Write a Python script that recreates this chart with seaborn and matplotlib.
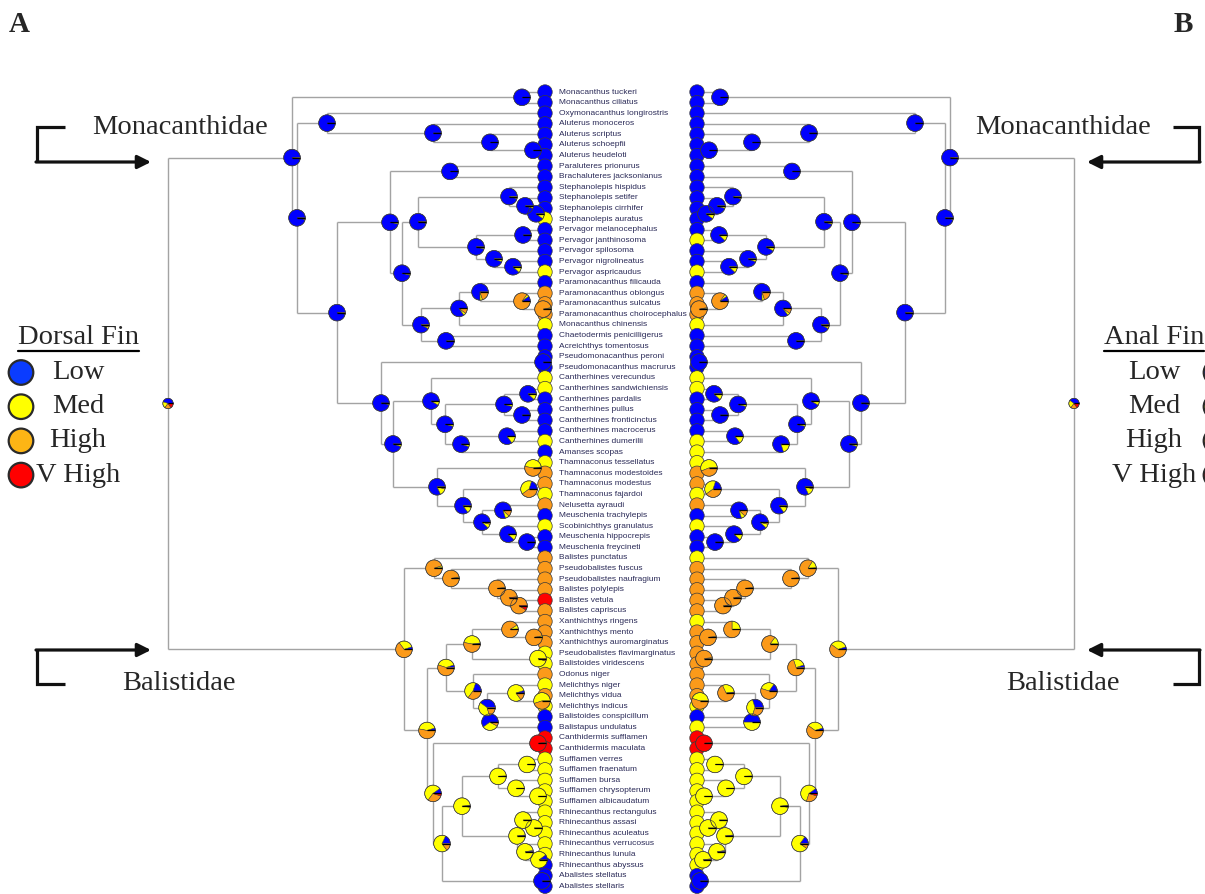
import numpy as np
import pandas as pd
import matplotlib
matplotlib.use("Agg")
import matplotlib.pyplot as plt
from matplotlib.patches import Wedge, Circle
from matplotlib.collections import LineCollection
from matplotlib.font_manager import FontProperties
import seaborn as sns

# ---------------------------------------------------------------- data
SPECIES = [
    "Monacanthus tuckeri", "Monacanthus ciliatus", "Oxymonacanthus longirostris",
    "Aluterus monoceros", "Aluterus scriptus", "Aluterus schoepfii", "Aluterus heudeloti",
    "Paraluteres prionurus", "Brachaluteres jacksonianus", "Stephanolepis hispidus",
    "Stephanolepis setifer", "Stephanolepis cirrhifer", "Stephanolepis auratus",
    "Pervagor melanocephalus", "Pervagor janthinosoma", "Pervagor spilosoma",
    "Pervagor nigrolineatus", "Pervagor aspricaudus", "Paramonacanthus filicauda",
    "Paramonacanthus oblongus", "Paramonacanthus sulcatus", "Paramonacanthus choirocephalus",
    "Monacanthus chinensis", "Chaetodermis penicilligerus", "Acreichthys tomentosus",
    "Pseudomonacanthus peroni", "Pseudomonacanthus macrurus", "Cantherhines verecundus",
    "Cantherhines sandwichiensis", "Cantherhines pardalis", "Cantherhines pullus",
    "Cantherhines fronticinctus", "Cantherhines macrocerus", "Cantherhines dumerilii",
    "Amanses scopas", "Thamnaconus tessellatus", "Thamnaconus modestoides",
    "Thamnaconus modestus", "Thamnaconus fajardoi", "Nelusetta ayraudi",
    "Meuschenia trachylepis", "Scobinichthys granulatus", "Meuschenia hippocrepis",
    "Meuschenia freycineti", "Balistes punctatus", "Pseudobalistes fuscus",
    "Pseudobalistes naufragium", "Balistes polylepis", "Balistes vetula",
    "Balistes capriscus", "Xanthichthys ringens", "Xanthichthys mento",
    "Xanthichthys auromarginatus", "Pseudobalistes flavimarginatus", "Balistoides viridescens",
    "Odonus niger", "Melichthys niger", "Melichthys vidua", "Melichthys indicus",
    "Balistoides conspicillum", "Balistapus undulatus", "Canthidermis sufflamen",
    "Canthidermis maculata", "Sufflamen verres", "Sufflamen fraenatum", "Sufflamen bursa",
    "Sufflamen chrysopterum", "Sufflamen albicaudatum", "Rhinecanthus rectangulus",
    "Rhinecanthus assasi", "Rhinecanthus aculeatus", "Rhinecanthus verrucosus",
    "Rhinecanthus lunula", "Rhinecanthus abyssus", "Abalistes stellatus", "Abalistes stellaris",
]

# fin-height state of every species (L = Low, M = Med, H = High, V = V High)
DORSAL_STATES = list(
    "LLLLLLLLLLLL" "M" "LLLL" "M" "L" "HHH" "M" "LLLL" "MM" "LLLL" "M" "L" "M" "HH" "M"
    "H" "L" "M" "LL" "HHHH" "V" "HHHH" "MM" "H" "M" "H" "M" "LL" "VV" "MMMMMMMMMM" "LLL"
)
ANAL_STATES = list(
    "LLLLLLLLLLLLLL" "M" "LL" "M" "L" "HHH" "M" "LLLL" "MM" "LLLL" "M" "M" "M" "HH" "M"
    "H" "L" "M" "LL" "M" "HHHHH" "M" "HHHHHHH" "M" "L" "M" "VV" "MMMMMMMMMMM" "LL"
)

STATE_NAMES = ["Low", "Med", "High", "V High"]
STATE_CODES = ["L", "M", "H", "V"]

# topology (tips numbered in plotting order, internal nodes named)
TREE = (
    "(((1,2)m1,((3,(4,(5,(6,7)c4)c3)c2)c1,(((8,9)h1,(((10,(11,(12,13)n3)n2)n1,"
    "((14,15)o1,(16,(17,18)o3)o2)o0)l0,(((19,(20,(21,22)w3)w2)w1,23)u0,(24,25)v0)k1)k0)h0,"
    "((26,27)i1,((28,(((29,30)d1,(31,32)d2)d0,((33,34)e1,35)e0)cc)aa,((36,37)j1,((38,39)j3,"
    "((40,41)j5,(42,(43,44)j7)j6)j4)j2)bb)z2)i0)d)b)a,"
    "((45,(46,(47,(48,(49,50)q4)q3)q2)q1)q0,((((51,(52,53)y2)y1,(54,55)y3)y0,"
    "(56,((57,(58,59)x3)x2,(60,61)x4)x1)x0)ww,((62,63)g1,((((64,65)s2,(66,(67,68)s4)s3)s1,"
    "((69,(70,71)r3)r2,(72,(73,74)r5)r4)r1)s0,(75,76)t1)t0)g0)rr)p)root;"
)

# node heights above the tips
NODE_HEIGHT = {
    "root": 377, "a": 253, "m1": 23, "b": 248, "c1": 218, "c2": 112, "c3": 55, "c4": 12,
    "d": 208, "h0": 155, "h1": 95, "k0": 143, "l0": 127, "n1": 36, "n2": 20, "n3": 9,
    "o0": 69, "o1": 22, "o2": 51, "o3": 32, "k1": 124, "u0": 86, "w1": 65, "w2": 23,
    "w3": 2, "v0": 99, "i0": 164, "i1": 2, "z2": 152, "aa": 114, "cc": 100, "d0": 41,
    "d1": 17, "d2": 23, "e0": 84, "e1": 38, "bb": 108, "j1": 12, "j2": 82, "j3": 16,
    "j4": 63, "j5": 42, "j6": 37, "j7": 18,
    "p": 141, "q0": 111, "q1": 94, "q2": 48, "q3": 36, "q4": 26, "rr": 118, "ww": 99,
    "y0": 73, "y1": 35, "y2": 11, "y3": 7, "x0": 72, "x1": 58, "x2": 29, "x3": 3,
    "x4": 55, "g0": 112, "g1": 7, "t0": 103, "s0": 83, "s1": 47, "s2": 18, "s3": 29,
    "s4": 7, "r1": 28, "r2": 22, "r3": 11, "r4": 20, "r5": 6, "t1": 3,
}

# ancestral-state probabilities (%) per node: Low, Med, High, V High
DORSAL_PIES = {
    "root": (45, 20, 20, 15), "a": (97, 1, 2, 0), "m1": (99, 1, 0, 0), "b": (97, 1, 2, 0),
    "c1": (99, 1, 0, 0), "c2": (99, 1, 0, 0), "c3": (99, 1, 0, 0), "c4": (99, 1, 0, 0),
    "d": (97, 1, 2, 0), "h0": (97, 2, 1, 0), "h1": (99, 1, 0, 0), "k0": (96, 2, 2, 0),
    "l0": (97, 2, 1, 0), "n1": (96, 4, 0, 0), "n2": (95, 5, 0, 0), "n3": (90, 10, 0, 0),
    "o0": (96, 3, 1, 0), "o1": (99, 1, 0, 0), "o2": (94, 6, 0, 0), "o3": (88, 12, 0, 0),
    "k1": (92, 3, 5, 0), "u0": (85, 5, 10, 0), "w1": (75, 5, 20, 0), "w2": (10, 5, 85, 0),
    "w3": (1, 2, 97, 0), "v0": (99, 1, 0, 0), "i0": (97, 2, 1, 0), "i1": (99, 1, 0, 0),
    "z2": (95, 4, 1, 0), "aa": (92, 7, 1, 0), "cc": (96, 3, 1, 0), "d0": (96, 4, 0, 0),
    "d1": (88, 12, 0, 0), "d2": (99, 1, 0, 0), "e0": (95, 5, 0, 0), "e1": (85, 15, 0, 0),
    "bb": (82, 14, 4, 0), "j1": (2, 45, 53, 0), "j2": (85, 12, 3, 0), "j3": (20, 40, 40, 0),
    "j4": (88, 8, 4, 0), "j5": (80, 8, 12, 0), "j6": (88, 12, 0, 0), "j7": (99, 1, 0, 0),
    "p": (5, 30, 65, 0), "q0": (1, 4, 95, 0), "q1": (1, 2, 97, 0), "q2": (0, 2, 97, 1),
    "q3": (0, 2, 95, 3), "q4": (0, 1, 90, 9), "rr": (5, 42, 53, 0), "ww": (5, 40, 55, 0),
    "y0": (2, 45, 53, 0), "y1": (1, 8, 91, 0), "y2": (0, 3, 97, 0), "y3": (0, 95, 5, 0),
    "x0": (20, 45, 35, 0), "x1": (40, 40, 20, 0), "x2": (5, 80, 15, 0), "x3": (0, 55, 45, 0),
    "x4": (60, 32, 8, 0), "g0": (10, 55, 30, 5), "g1": (0, 0, 2, 98), "t0": (18, 67, 15, 0),
    "s0": (2, 96, 2, 0), "s1": (1, 98, 1, 0), "s2": (0, 99, 1, 0), "s3": (0, 99, 1, 0),
    "s4": (0, 99, 1, 0), "r1": (2, 97, 1, 0), "r2": (0, 99, 1, 0), "r3": (0, 99, 1, 0),
    "r4": (3, 96, 1, 0), "r5": (10, 89, 1, 0), "t1": (99, 1, 0, 0),
}
# anal fin: nodes whose probabilities differ from the dorsal reconstruction
ANAL_PIES = {
    **DORSAL_PIES,
    "root": (40, 25, 20, 15), "o1": (88, 12, 0, 0), "o0": (92, 7, 1, 0), "l0": (95, 4, 1, 0),
    "j1": (1, 55, 44, 0), "e0": (80, 20, 0, 0), "p": (5, 35, 60, 0), "q0": (1, 15, 84, 0),
    "q1": (0, 2, 98, 0), "q2": (0, 2, 98, 0), "q3": (0, 2, 98, 0), "q4": (0, 2, 98, 0),
    "rr": (5, 35, 60, 0), "ww": (5, 25, 70, 0), "y0": (0, 15, 85, 0), "y1": (0, 25, 75, 0),
    "y2": (0, 2, 98, 0), "y3": (0, 2, 98, 0), "x0": (15, 30, 55, 0), "x1": (30, 40, 30, 0),
    "x2": (2, 30, 68, 0), "x3": (0, 45, 55, 0), "x4": (50, 50, 0, 0), "g0": (10, 60, 25, 5),
    "t0": (15, 75, 10, 0), "r5": (2, 97, 1, 0),
}

TREE_COLORS = ["#0000ff", "#ffff00", "#fb9a1a", "#ff0000"]
KEY_COLORS = ["#0a3cff", "#ffff00", "#fdb515", "#ff0000"]

# ---------------------------------------------------------------- layout
W, H = 1205, 894
TIP_TOP, TIP_STEP = 92.0, 10.59
LEFT_TIP_X, RIGHT_TIP_X = 545.0, 697.0
TIP_R, NODE_R, ROOT_R = 7.3, 8.3, 5.2
LINE_GREY = "#a3a3a3"


def parse_newick(text):
    s = text.strip().rstrip(";")
    pos = 0

    def read():
        nonlocal pos
        kids = []
        if s[pos] == "(":
            pos += 1
            while True:
                kids.append(read())
                if s[pos] == ",":
                    pos += 1
                    continue
                pos += 1  # ')'
                break
        start = pos
        while pos < len(s) and s[pos] not in ",()":
            pos += 1
        return {"name": s[start:pos], "children": kids}

    return read()


def layout(node):
    """Give every node its height above the tips and its row position."""
    if not node["children"]:
        node["h"] = 0.0
        node["row"] = int(node["name"]) - 1
        node["ypos"] = TIP_TOP + node["row"] * TIP_STEP
        return
    for c in node["children"]:
        layout(c)
    node["h"] = float(NODE_HEIGHT[node["name"]])
    ys = [c["ypos"] for c in node["children"]]
    node["ypos"] = (min(ys) + max(ys)) / 2.0


def internal_nodes(node, out):
    if node["children"]:
        out.append(node)
        for c in node["children"]:
            internal_nodes(c, out)
    return out


tree = parse_newick(TREE)
layout(tree)
nodes = internal_nodes(tree, [])

sns.set_theme(style="white")
plt.rcParams["font.family"] = ["Liberation Serif", "DejaVu Serif"]

fig = plt.figure(figsize=(W / 100, H / 100), dpi=100)
ax = fig.add_axes([0, 0, 1, 1])
ax.set_xlim(0, W)
ax.set_ylim(H, 0)
ax.set_aspect("equal")
ax.axis("off")


def draw_pie(cx, cy, fracs, radius, colors):
    fr = np.asarray(fracs, float)
    fr = fr / fr.sum()
    start = 0.0
    for f, col in zip(fr, colors):
        if f <= 0:
            continue
        end = start + 360.0 * f
        # screen angles run counter-clockwise; the y axis is inverted
        ax.add_patch(Wedge((cx, cy), radius, -end, -start, facecolor=col,
                           edgecolor="#3a3a3a", linewidth=0.35, zorder=5))
        start = end
    ax.add_patch(Circle((cx, cy), radius, fill=False, edgecolor="#3a3a3a",
                        linewidth=0.45, zorder=5.1))
    ax.plot([cx, cx + radius], [cy, cy], color="black", lw=0.9, zorder=5.2,
            solid_capstyle="butt")


def draw_tree(sign, tip_x, states, pies):
    xpos = lambda n: tip_x + sign * n["h"]
    segs = []
    for n in nodes:
        nx = xpos(n)
        ys = [c["ypos"] for c in n["children"]]
        segs.append([(nx, min(ys)), (nx, max(ys))])
        for c in n["children"]:
            segs.append([(nx, c["ypos"]), (xpos(c), c["ypos"])])
    ax.add_collection(LineCollection(segs, colors=LINE_GREY, linewidths=1.0, zorder=1))

    tips = pd.DataFrame({
        "x": tip_x,
        "y": TIP_TOP + np.arange(len(SPECIES)) * TIP_STEP,
        "state": [STATE_NAMES[STATE_CODES.index(s)] for s in states],
    })
    sns.scatterplot(data=tips, x="x", y="y", hue="state", hue_order=STATE_NAMES,
                    palette=dict(zip(STATE_NAMES, TREE_COLORS)), s=108,
                    edgecolor="#3a3a3a", linewidth=0.5, legend=False, ax=ax, zorder=3)

    for n in reversed(nodes):
        r = ROOT_R if n["name"] == "root" else NODE_R
        draw_pie(xpos(n), n["ypos"], pies[n["name"]], r, TREE_COLORS)


draw_tree(-1, LEFT_TIP_X, DORSAL_STATES, DORSAL_PIES)
draw_tree(+1, RIGHT_TIP_X, ANAL_STATES, ANAL_PIES)
ax.set_xlim(0, W)
ax.set_ylim(H, 0)
ax.set_xlabel("")
ax.set_ylabel("")

# species names between the two trees
for i, name in enumerate(SPECIES):
    ax.text(559, TIP_TOP + i * TIP_STEP, name, fontsize=6.0, color="#2b2b58",
            family=["Liberation Sans", "DejaVu Sans"], va="center", ha="left", zorder=6)

# panel letters
letter_font = FontProperties(family="Liberation Serif", weight="bold", size=21)
ax.text(9, 25, "A", fontproperties=letter_font, va="center", ha="left")
ax.text(1174, 25, "B", fontproperties=letter_font, va="center", ha="left")

# family labels with bracket arrows
FS = 20.5
ax.text(92, 128, "Monacanthidae", fontsize=FS, va="center", ha="left")
ax.text(975, 128, "Monacanthidae", fontsize=FS, va="center", ha="left")
ax.text(122, 684, "Balistidae", fontsize=FS, va="center", ha="left")
ax.text(1006, 684, "Balistidae", fontsize=FS, va="center", ha="left")

arrow_kw = dict(arrowstyle="-|>", color="#111111", lw=2.3, mutation_scale=20,
                shrinkA=0, shrinkB=0)
for (x0, xb, yb, ya, xt) in [(65, 37, 127, 162, 151), (65, 37, 684, 650, 151),
                             (1173, 1199, 127, 162, 1087), (1173, 1199, 684, 650, 1087)]:
    ax.plot([x0, xb, xb], [yb, yb, ya], color="#111111", lw=2.3,
            solid_joinstyle="miter", solid_capstyle="butt")
    ax.annotate("", xy=(xt, ya), xytext=(xb - (1 if xb < 600 else -1), ya),
                arrowprops=arrow_kw)

# state keys
def draw_key(title, tx, circ_x):
    t = ax.text(tx, 338, title, fontsize=FS, va="center", ha="center")
    fig.canvas.draw()
    bb = t.get_window_extent().transformed(ax.transData.inverted())
    ax.plot([bb.x0, bb.x1], [350.5, 350.5], color="black", lw=1.6)
    for k, (lab, col) in enumerate(zip(STATE_NAMES, KEY_COLORS)):
        yk = 372.5 + k * 34.2
        ax.add_patch(Circle((circ_x, yk), 12.3, facecolor=col, edgecolor="#2a2a2a",
                            linewidth=1.6, zorder=4))
        ax.text(tx, yk, lab, fontsize=FS, va="center", ha="center")


draw_key("Dorsal Fin", 78, 21)
draw_key("Anal Fin", 1154, 1216)

fig.savefig("out.png", dpi=100)
